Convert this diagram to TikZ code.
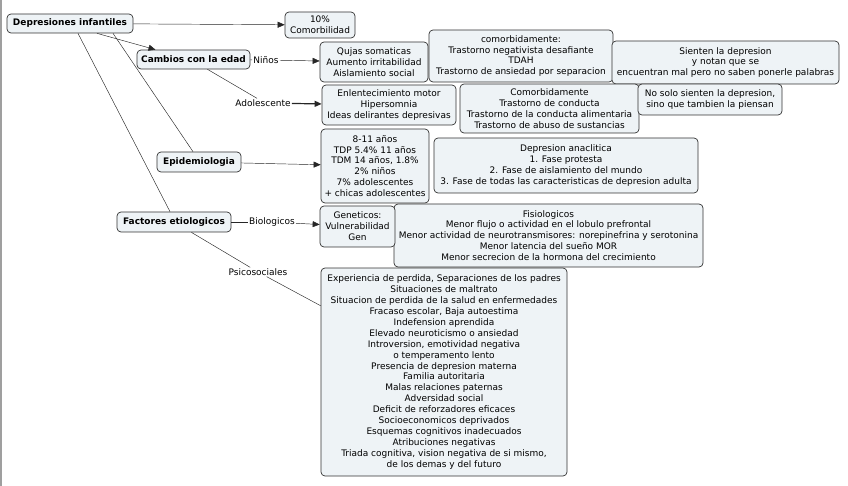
\documentclass[tikz,border=0pt]{standalone}
\usepackage{fontspec}
\setmainfont{DejaVu Sans}
\usetikzlibrary{arrows.meta,positioning}

\definecolor{conceptfill}{RGB}{238,243,246}
\definecolor{conceptline}{RGB}{50,50,50}

\tikzset{
  concept/.style={draw=conceptline, fill=conceptfill, rounded corners=4pt,
    align=center, inner sep=1pt, line width=0.7pt,
    font=\fontsize{9}{10.9}\selectfont},
  topic/.style={concept, font=\fontsize{9}{10}\selectfont\bfseries},
  linkword/.style={inner sep=1pt, font=\fontsize{9}{10}\selectfont},
  link/.style={draw=black!85, line width=0.45pt},
  arrowlink/.style={link, -{Triangle[length=7pt,width=6pt]}},
}

\begin{document}
\begin{tikzpicture}[x=1pt,y=-1pt]
\useasboundingbox (0,0) rectangle (848,486);
% window edge
\draw[gray!75, line width=2pt] (1,0) -- (1,486);

% Main topics
\node[topic, minimum width=126, minimum height=19] (dep) at (70,23.5) {Depresiones infantiles};
\node[topic, minimum width=113, minimum height=19] (cambios) at (193.5,59.5) {Cambios con la edad};
\node[topic, minimum width=84, minimum height=20] (epi) at (199,162) {Epidemiologia};
\node[topic, minimum width=114, minimum height=20] (factores) at (174,222) {Factores etiologicos};

% Comorbilidad
\node[concept, minimum width=70, minimum height=26] (comorb) at (320,25) {10\%\\Comorbilidad};

% Cambios con la edad
\node[concept, minimum width=108, minimum height=40] (ninos) at (374,62)
  {Qujas somaticas\\Aumento irritabilidad\\Aislamiento social};
\node[concept, minimum width=184, minimum height=52] (comorbninos) at (521,56)
  {comorbidamente:\\Trastorno negativista desafiante\\TDAH\\Trastorno de ansiedad por separacion};
\node[concept, minimum width=227, minimum height=43] (sienten) at (725.5,62.5)
  {Sienten la depresion\\y notan que se\\encuentran mal pero no saben ponerle palabras};
\node[concept, minimum width=134, minimum height=40] (adol) at (389,105)
  {Enlentecimiento motor\\Hipersomnia\\Ideas delirantes depresivas};
\node[concept, minimum width=179, minimum height=49] (comorbadol) at (549.5,108.5)
  {Comorbidamente\\Trastorno de conducta\\Trastorno de la conducta alimentaria\\Trastorno de abuso de sustancias};
\node[concept, minimum width=144, minimum height=31] (piensan) at (710,99.5)
  {No solo sienten la depresion,\\sino que tambien la piensan};

% Epidemiologia
\node[concept, minimum width=108, minimum height=74] (cifras) at (375,166)
  {8-11 años\\TDP 5.4\% 11 años\\TDM 14 años, 1.8\%\\2\% niños\\7\% adolescentes\\+ chicas adolescentes};
\node[concept, minimum width=264, minimum height=55] (anaclitica) at (566,165.5)
  {Depresion anaclitica\\1. Fase protesta\\2. Fase de aislamiento del mundo\\3. Fase de todas las caracteristicas de depresion adulta};

% Factores etiologicos
\node[concept, minimum width=309, minimum height=63] (fisio) at (548.5,235.5)
  {Fisiologicos\\Menor flujo o actividad en el lobulo prefrontal\\Menor actividad de neurotransmisores: norepinefrina y serotonina\\Menor latencia del sueño MOR\\Menor secrecion de la hormona del crecimiento};
\node[concept, minimum width=75, minimum height=41] (genet) at (357.5,226.5)
  {Geneticos:\\Vulnerabilidad\\Gen};
\node[concept, minimum width=246, minimum height=208] (psico) at (444,372)
  {Experiencia de perdida, Separaciones de los padres\\Situaciones de maltrato\\
   Situacion de perdida de la salud en enfermedades\\Fracaso escolar, Baja autoestima\\
   Indefension aprendida\\Elevado neuroticismo o ansiedad\\Introversion, emotividad negativa\\
   o temperamento lento\\Presencia de depresion materna\\Familia autoritaria\\
   Malas relaciones paternas\\Adversidad social\\Deficit de reforzadores eficaces\\
   Socioeconomicos deprivados\\Esquemas cognitivos inadecuados\\Atribuciones negativas\\
   Triada cognitiva, vision negativa de si mismo,\\de los demas y del futuro};

% Link words
\node[linkword] (lninos) at (266,60) {Niños};
\node[linkword] (ladol) at (263,103) {Adolescente};
\node[linkword] (lbio) at (272,222) {Biologicos};
\node[linkword] (lpsico) at (258,272) {Psicosociales};

% Connectors
\draw[arrowlink] (dep) -- (comorb);
\draw[arrowlink] ([xshift=27pt]dep.south) -- ([xshift=-38pt]cambios.north);
\draw[link] ([xshift=43pt]dep.south) -- ([xshift=-6pt]epi.north);
\draw[link] ([xshift=8pt]dep.south) -- ([xshift=-4pt]factores.north);
\draw[link] (cambios) -- (lninos);
\draw[arrowlink] (lninos) -- (ninos);
\draw[link] ([xshift=14pt]cambios.south) -- ([xshift=-6pt]ladol.north);
\draw[arrowlink, line width=1.2pt] (ladol) -- (adol);
\draw[arrowlink] (epi) -- (cifras);
\draw[link] (factores) -- (lbio);
\draw[arrowlink] (lbio) -- (genet);
\draw[link] (factores) -- (lpsico);
\draw[link] (lpsico) -- (psico);
\end{tikzpicture}
\end{document}
